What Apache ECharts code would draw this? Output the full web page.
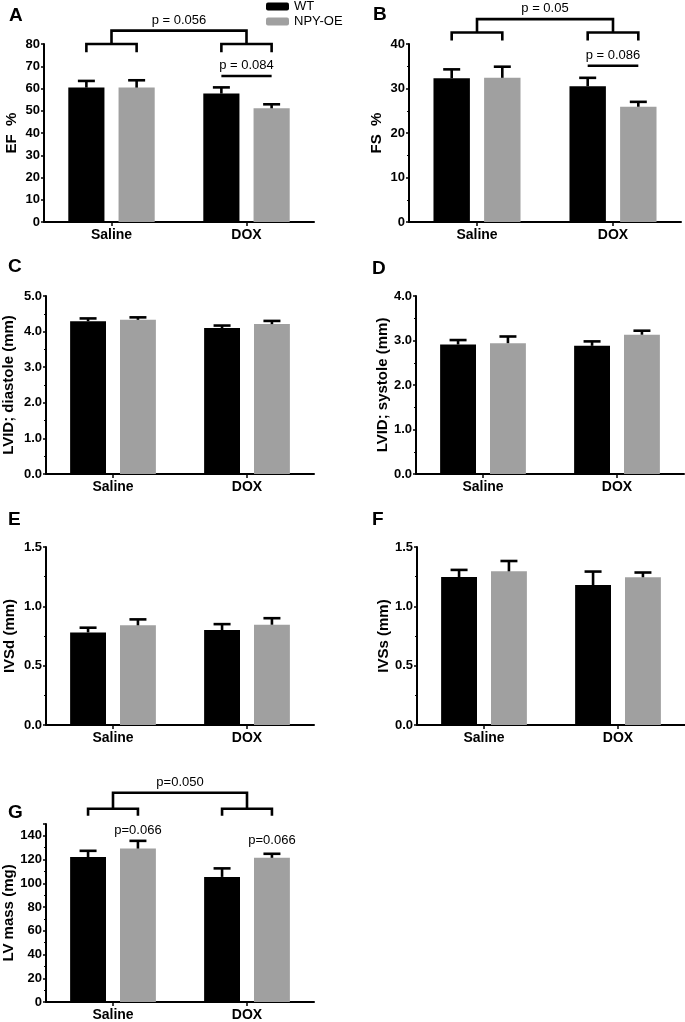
<!DOCTYPE html>
<html>
<head>
<meta charset="utf-8">
<script src="https://cdn.jsdelivr.net/npm/echarts@6/dist/echarts.min.js"></script>
<style>
html,body{margin:0;padding:0;background:#fff;}
#chart{width:685px;height:1022px;}
</style>
</head>
<body>
<div id="chart"></div>
<script>
// ---------- data ----------
const categories = ['Saline', 'DOX'];
const seriesNames = ['WT', 'NPY-OE'];

const efWT = [60.4, 57.7],      efWTsem = [3.0, 2.8];
const efNPY = [60.4, 51.1],     efNPYsem = [3.3, 1.8];
const fsWT = [32.3, 30.5],      fsWTsem = [2.0, 1.9];
const fsNPY = [32.4, 25.9],     fsNPYsem = [2.5, 1.1];
const lviddWT = [4.29, 4.10],   lviddWTsem = [0.08, 0.07];
const lviddNPY = [4.33, 4.21],  lviddNPYsem = [0.07, 0.09];
const lvidsWT = [2.91, 2.88],   lvidsWTsem = [0.10, 0.10];
const lvidsNPY = [2.94, 3.13],  lvidsNPYsem = [0.15, 0.09];
const ivsdWT = [0.78, 0.80],    ivsdWTsem = [0.04, 0.05];
const ivsdNPY = [0.84, 0.845],  ivsdNPYsem = [0.05, 0.055];
const ivssWT = [1.247, 1.18],   ivssWTsem = [0.06, 0.113];
const ivssNPY = [1.295, 1.245], ivssNPYsem = [0.087, 0.04];
const massWT = [122.1, 105.4],  massWTsem = [5.3, 7.2];
const massNPY = [129.3, 121.5], massNPYsem = [6.5, 3.4];

// significance annotations (values in data units)
const bracketA = {arm: 80, leg: 76.3, top: 86, label: 'p = 0.056'};
const pairA = {cat: 1, y: 65.6, label: 'p = 0.084'};
const bracketB = {arm: 42.6, leg: 40.8, top: 45.6, label: 'p = 0.05'};
const pairB = {cat: 1, y: 35.1, label: 'p = 0.086'};
const bracketG = {arm: 162.9, leg: 157, top: 176.3, label: 'p=0.050'};
const textsG = [{cat: 0, y: 144.2, label: 'p=0.066'}, {cat: 1, y: 135.8, label: 'p=0.066'}];

// ---------- layout / style ----------
const FONT = "'Liberation Sans', Arial, Helvetica, sans-serif";
const COLORS = ['#000000', '#a0a0a0'];
const CAT_GAP = 0.36, BAR_GAP = 0.39;

const panels = [
  {letter:'A', lx:9,   ly:6,   grid:{left:44, top:44, width:270, height:178}, max:80, interval:10, minor:false, dec:0, name:'EF  %', gap:25,
   wt:efWT, wtE:efWTsem, npy:efNPY, npyE:efNPYsem},
  {letter:'B', lx:373, ly:5,   grid:{left:409, top:44, width:272, height:178}, max:40, interval:10, minor:true, dec:0, name:'FS  %', gap:25,
   wt:fsWT, wtE:fsWTsem, npy:fsNPY, npyE:fsNPYsem},
  {letter:'C', lx:8,   ly:257, grid:{left:46, top:296, width:268, height:178}, max:5, interval:1, minor:true, dec:1, name:'LVID; diastole (mm)', gap:30,
   wt:lviddWT, wtE:lviddWTsem, npy:lviddNPY, npyE:lviddNPYsem},
  {letter:'D', lx:372, ly:259, grid:{left:416, top:296, width:268, height:178}, max:4, interval:1, minor:true, dec:1, name:'LVID; systole (mm)', gap:26,
   wt:lvidsWT, wtE:lvidsWTsem, npy:lvidsNPY, npyE:lvidsNPYsem},
  {letter:'E', lx:8,   ly:510, grid:{left:46, top:547, width:268, height:178}, max:1.5, interval:0.5, minor:true, dec:1, name:'IVSd (mm)', gap:29,
   wt:ivsdWT, wtE:ivsdWTsem, npy:ivsdNPY, npyE:ivsdNPYsem},
  {letter:'F', lx:372, ly:510, grid:{left:417, top:547, width:268, height:178}, max:1.5, interval:0.5, minor:true, dec:1, name:'IVSs (mm)', gap:26,
   wt:ivssWT, wtE:ivssWTsem, npy:ivssNPY, npyE:ivssNPYsem},
  {letter:'G', lx:8,   ly:803, grid:{left:46, top:824, width:268, height:179}, max:150, interval:20, minor:true, dec:0, name:'LV mass (mg)', gap:29,
   wt:massWT, wtE:massWTsem, npy:massNPY, npyE:massNPYsem}
];

function barCenters(api) {
  const band = api.size([1, 0])[0];
  const bw = band * (1 - CAT_GAP) / (2 + BAR_GAP);
  const off = bw * (1 + BAR_GAP) / 2;
  return {bw: bw, off: off};
}

const grids = [], xAxes = [], yAxes = [], series = [], titles = [];

panels.forEach(function (p, i) {
  grids.push(Object.assign({containLabel: false}, p.grid));
  titles.push({text: p.letter, left: p.lx, top: p.ly, padding: 0,
    textStyle: {fontFamily: FONT, fontWeight: 'bold', fontSize: 19, color: '#000'}});
  xAxes.push({
    type: 'category', gridIndex: i, data: categories,
    axisLine: {show: true, lineStyle: {color: '#000', width: 2}},
    axisTick: {show: true, alignWithLabel: true, length: 4, lineStyle: {color: '#000', width: 1.5}},
    axisLabel: {color: '#000', fontFamily: FONT, fontWeight: 'bold', fontSize: 14, margin: 6},
    splitLine: {show: false}
  });
  yAxes.push({
    type: 'value', gridIndex: i, min: 0, max: p.max, interval: p.interval,
    name: p.name, nameLocation: 'middle', nameRotate: 90, nameGap: p.gap,
    nameTextStyle: {color: '#000', fontFamily: FONT, fontWeight: 'bold', fontSize: 15},
    axisLine: {show: true, lineStyle: {color: '#000', width: 2}},
    axisTick: {show: true, length: 3, lineStyle: {color: '#000', width: 1.5}},
    minorTick: {show: p.minor, splitNumber: 2, length: 2, lineStyle: {color: '#000', width: 1.2}},
    axisLabel: {color: '#000', fontFamily: FONT, fontWeight: 'bold', fontSize: 13, margin: 4,
      showMaxLabel: p.max % p.interval === 0,
      formatter: function (v) { return v.toFixed(p.dec); }},
    splitLine: {show: false}, minorSplitLine: {show: false}
  });
  const groups = [[p.wt, p.wtE], [p.npy, p.npyE]];
  groups.forEach(function (g, k) {
    series.push({
      type: 'bar', name: seriesNames[k], xAxisIndex: i, yAxisIndex: i,
      data: g[0], barCategoryGap: (CAT_GAP * 100) + '%', barGap: (BAR_GAP * 100) + '%',
      itemStyle: {color: COLORS[k]}, silent: true, animation: false
    });
  });
  groups.forEach(function (g, k) {
    series.push({
      type: 'custom', xAxisIndex: i, yAxisIndex: i, z: 5, animation: false, silent: true,
      data: g[0].map(function (v, j) { return [j, v, g[1][j]]; }),
      renderItem: function (params, api) {
        const L = barCenters(api);
        const base = api.coord([api.value(0), api.value(1)]);
        const top = api.coord([api.value(0), api.value(1) + api.value(2)]);
        const x = base[0] + (k === 0 ? -L.off : L.off);
        const st = {stroke: '#000', lineWidth: 2.6, fill: null};
        return {type: 'group', children: [
          {type: 'line', shape: {x1: x, y1: base[1], x2: x, y2: top[1]}, style: st},
          {type: 'line', shape: {x1: x - 8.5, y1: top[1], x2: x + 8.5, y2: top[1]}, style: st}
        ]};
      }
    });
  });
});

function annotationSeries(idx, bracket, pair, texts) {
  return {
    type: 'custom', xAxisIndex: idx, yAxisIndex: idx, z: 6, animation: false, silent: true, clip: false,
    data: [[0, 0]],
    renderItem: function (params, api) {
      const L = barCenters(api);
      const st = {stroke: '#000', lineWidth: 2.6, fill: null};
      const tfont = '13px ' + FONT;
      const ch = [];
      const c0 = api.coord([0, bracket.arm]), c1 = api.coord([1, bracket.arm]);
      const legY = api.coord([0, bracket.leg])[1], armY = c0[1], topY = api.coord([0, bracket.top])[1];
      [c0[0], c1[0]].forEach(function (cx) {
        ch.push({type: 'polyline', shape: {points: [[cx - L.off, legY], [cx - L.off, armY], [cx + L.off, armY], [cx + L.off, legY]]}, style: st});
      });
      ch.push({type: 'polyline', shape: {points: [[c0[0], armY], [c0[0], topY], [c1[0], topY], [c1[0], armY]]}, style: st});
      ch.push({type: 'text', style: {text: bracket.label, x: (c0[0] + c1[0]) / 2, y: topY - 4, align: 'center', verticalAlign: 'bottom', font: tfont, fill: '#000'}});
      if (pair) {
        const pc = api.coord([pair.cat, pair.y]);
        ch.push({type: 'line', shape: {x1: pc[0] - L.off, y1: pc[1], x2: pc[0] + L.off, y2: pc[1]}, style: st});
        ch.push({type: 'text', style: {text: pair.label, x: pc[0], y: pc[1] - 4, align: 'center', verticalAlign: 'bottom', font: tfont, fill: '#000'}});
      }
      (texts || []).forEach(function (t) {
        const tc = api.coord([t.cat, t.y]);
        ch.push({type: 'text', style: {text: t.label, x: tc[0] + L.off, y: tc[1], align: 'center', verticalAlign: 'middle', font: tfont, fill: '#000'}});
      });
      return {type: 'group', children: ch};
    }
  };
}
series.push(annotationSeries(0, bracketA, pairA, null));
series.push(annotationSeries(1, bracketB, pairB, null));
series.push(annotationSeries(6, bracketG, null, textsG));

const chart = echarts.init(document.getElementById('chart'), null, {renderer: 'canvas'});
chart.setOption({
  backgroundColor: '#fff',
  animation: false,
  title: titles,
  legend: {
    data: seriesNames, orient: 'vertical', left: 266, top: 0, padding: 0,
    itemWidth: 23, itemHeight: 8, itemGap: 2, icon: 'roundRect',
    textStyle: {color: '#000', fontFamily: FONT, fontSize: 13}, selectedMode: false
  },
  grid: grids, xAxis: xAxes, yAxis: yAxes, series: series
});
</script>
</body>
</html>
